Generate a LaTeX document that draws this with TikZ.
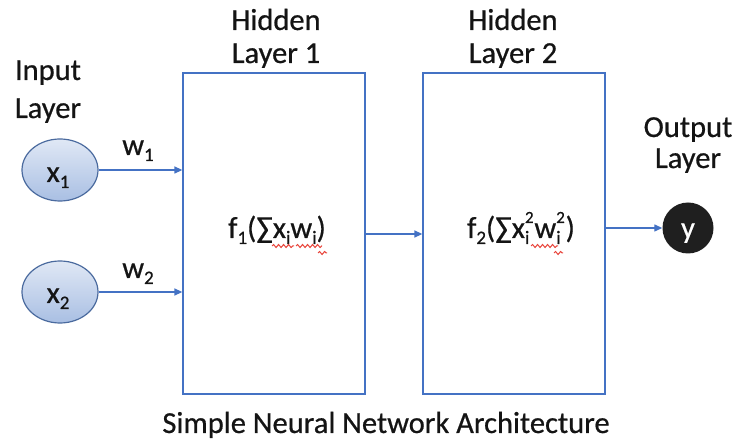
\documentclass[tikz,border=0pt]{standalone}
\usepackage{fontspec}
\setmainfont[FakeBold=0.6]{Carlito}
\usetikzlibrary{arrows.meta,decorations.pathmorphing,shapes.geometric}
\definecolor{offblue}{HTML}{4472C4}
\definecolor{ellborder}{HTML}{4A6A9E}
\definecolor{elltop}{HTML}{E0E8F5}
\definecolor{ellbot}{HTML}{A9BFE3}
\definecolor{squig}{HTML}{E8453C}
\newcommand{\smallsup}[1]{\raisebox{15pt}{\fontsize{17}{17}\selectfont #1}}
\newcommand{\smallsub}[1]{\raisebox{-6pt}{\fontsize{19}{19}\selectfont #1}}
\tikzset{
  lbl/.style={font=\fontsize{30.5}{33}\selectfont, text=black!92, inner sep=0pt, anchor=base},
  layerbox/.style={draw=offblue, line width=1.3pt},
  inpnode/.style={ellipse, draw=ellborder, line width=1.2pt, top color=elltop, bottom color=ellbot, minimum width=76pt, minimum height=62pt, inner sep=0pt},
  outnode/.style={circle, fill=black!88, minimum size=51pt, inner sep=0pt},
  conn/.style={draw=offblue, line width=1.3pt, -{Triangle[length=8pt,width=7pt]}},
  squiggle/.style={draw=squig, line width=1pt, decorate, decoration={snake, amplitude=1.5pt, segment length=5pt}}
}
\begin{document}
\begin{tikzpicture}[x=1pt,y=-1pt]
\useasboundingbox (0,0) rectangle (737,446);
% boxes
\node[layerbox, minimum width=182pt, minimum height=321pt, inner sep=0pt] (h1) at (274,233.5) {};
\node[layerbox, minimum width=182pt, minimum height=321pt, inner sep=0pt] (h2) at (514,233.5) {};
% input nodes
\node[inpnode] (x1) at (60,170) {};
\node[inpnode] (x2) at (60,292) {};
\node[lbl] (x1t) at (58,182) {x\smallsub{1}};
\node[lbl] (x2t) at (58,303) {x\smallsub{2}};
% output node
\node[outnode] (y) at (688,228) {};
\node[lbl, text=white] (yt) at (688,238) {y};
% layer labels
\node[lbl] (in1) at (48,80) {Input};
\node[lbl] (in2) at (48,118) {Layer};
\node[lbl] (hd1) at (276,30) {Hidden};
\node[lbl] (hl1) at (276,63) {Layer 1};
\node[lbl] (hd2) at (513,30) {Hidden};
\node[lbl] (hl2) at (513,63) {Layer 2};
\node[lbl] (ou1) at (688,137) {Output};
\node[lbl] (ou2) at (688,168) {Layer};
% weights
\node[lbl] (w1) at (138,155) {w\smallsub{1}};
\node[lbl] (w2) at (138,278) {w\smallsub{2}};
% formulas
\node[lbl] (f1) at (277,238) {f\smallsub{1}(∑x\smallsub{i}w\smallsub{i})};
\node[lbl] (f2) at (521,238) {f\smallsub{2}(∑x\rlap{\smallsup{2}}\smallsub{i}\,w\rlap{\smallsup{2}}\smallsub{i}\,)};
% squiggles
\coordinate (s1a) at (272,246); \coordinate (s1b) at (294,246);
\coordinate (s2a) at (296,246); \coordinate (s2b) at (322,246);
\coordinate (s3a) at (318,253); \coordinate (s3b) at (327,253);
\coordinate (s4a) at (531,246); \coordinate (s4b) at (558,246);
\coordinate (s5a) at (554,253); \coordinate (s5b) at (563,253);
\draw[squiggle] (s1a) -- (s1b);
\draw[squiggle] (s2a) -- (s2b);
\draw[squiggle] (s3a) -- (s3b);
\draw[squiggle] (s4a) -- (s4b);
\draw[squiggle] (s5a) -- (s5b);
% connectors
\draw[conn] (x1.east) -- (x1.east -| h1.west);
\draw[conn] (x2.east) -- (x2.east -| h1.west);
\coordinate (m1) at (h1.east |- 0,234);
\draw[conn] (m1) -- (m1 -| h2.west);
\coordinate (m2) at (h2.east |- 0,228);
\draw[conn] (m2) -- (y.west);
% title
\node[lbl] (title) at (386,433) {Simple Neural Network Architecture};
\end{tikzpicture}
\end{document}
